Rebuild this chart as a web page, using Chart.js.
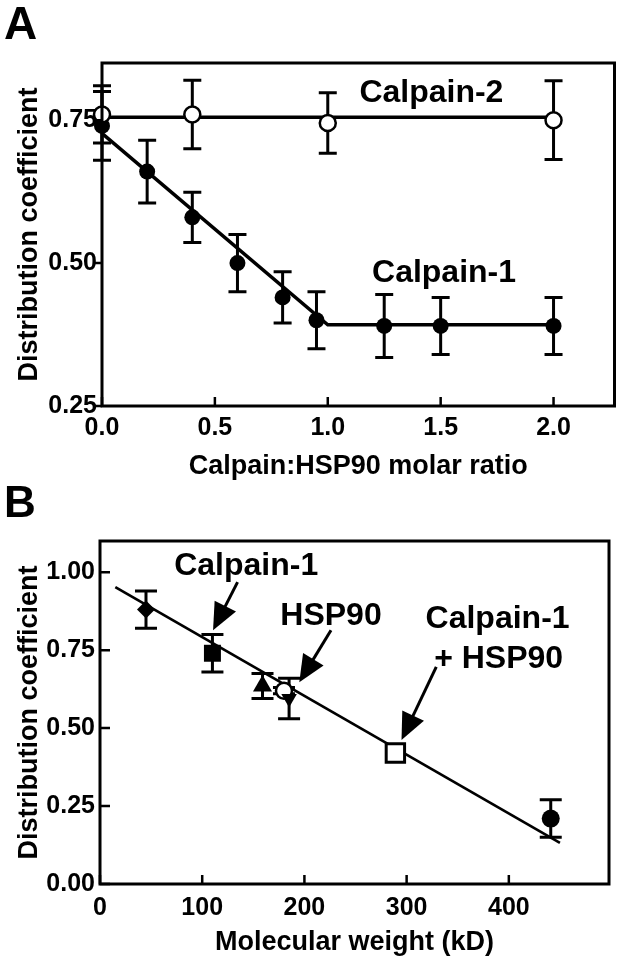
<!DOCTYPE html>
<html><head><meta charset="utf-8">
<script src="https://cdn.jsdelivr.net/npm/chart.js@4.4.0/dist/chart.umd.min.js"></script>
<style>
html,body{margin:0;padding:0;background:#fff;width:625px;height:963px;overflow:hidden}
#wrap{position:relative;width:625px;height:963px;background:#fff}
canvas{position:absolute;left:0}
#cA{top:0}
#cB{top:480px}
.lbl{position:absolute;font-family:"Liberation Sans",Arial,sans-serif;font-weight:bold;line-height:1;color:#000}
</style></head>
<body><div id="wrap">
<canvas id="cA" width="625" height="480"></canvas>
<canvas id="cB" width="625" height="483"></canvas>
<div class="lbl" style="left:4px;top:0px;font-size:46px">A</div>
<div class="lbl" style="left:4px;top:480px;font-size:44px">B</div>
</div>
<script>
// ---------- Panel A data ----------
const ratioC1 = [0, 0.2, 0.4, 0.6, 0.8, 0.95, 1.25, 1.5, 2.0];
const coefC1  = [0.74, 0.66, 0.58, 0.50, 0.44, 0.40, 0.39, 0.39, 0.39];
const errC1   = [0.06, 0.055, 0.044, 0.05, 0.045, 0.05, 0.055, 0.05, 0.05];
const ratioC2 = [0, 0.4, 1.0, 2.0];
const coefC2  = [0.76, 0.76, 0.745, 0.75];
const errC2   = [0.05, 0.06, 0.053, 0.069];
const fitC1X = [0, 1.0, 2.0];
const fitC1Y = [0.727, 0.392, 0.392];
const fitC2X = [0, 2.0];
const fitC2Y = [0.755, 0.755];
const xTicksA = [0, 0.5, 1.0, 1.5, 2.0];
const xTickLabelsA = ['0.0', '0.5', '1.0', '1.5', '2.0'];
const yTicksA = [0.25, 0.5, 0.75];
const yTickLabelsA = ['0.25', '0.50', '0.75'];
const annA  = ['Calpain-2', 'Calpain-1'];
const annAX = [1.459, 1.515];
const annAY = [0.781, 0.467];

// ---------- Panel B data ----------
const mwB   = [45, 110, 159, 180, 185, 289, 441];
const coefB = [0.88, 0.74, 0.635, 0.62, 0.595, 0.42, 0.21];
const errB  = [0.06, 0.06, 0.04, 0.01, 0.065, 0, 0.06];
const fitBX = [15, 450];
const fitBY = [0.952, 0.132];
const xTicksB = [0, 100, 200, 300, 400];
const xTickLabelsB = ['0', '100', '200', '300', '400'];
const yTicksB = [0, 0.25, 0.5, 0.75, 1.0];
const yTickLabelsB = ['0.00', '0.25', '0.50', '0.75', '1.00'];
const annB  = ['Calpain-1', 'HSP90', 'Calpain-1', '+ HSP90'];
const annBX = [143, 226, 389, 390];
const annBY = [0.99, 0.83, 0.82, 0.692];
const arrowFromX = [134.6, 226, 329];
const arrowFromY = [0.968, 0.814, 0.696];
const arrowToX   = [110.6, 195, 295];
const arrowToY   = [0.814, 0.647, 0.462];

const FONT = '"Liberation Sans", Arial, sans-serif';
const pts = (xs, ys) => xs.map((x, i) => ({x: x, y: ys[i]}));

function drawErr(ctx, xs, ys, xv, yv, ev, half, lw) {
  ctx.save();
  ctx.strokeStyle = '#000'; ctx.lineWidth = lw; ctx.lineCap = 'butt';
  xv.forEach((x, i) => {
    if (!ev[i]) return;
    const px = xs.getPixelForValue(x);
    const pt = ys.getPixelForValue(yv[i] + ev[i]);
    const pb = ys.getPixelForValue(yv[i] - ev[i]);
    ctx.beginPath();
    ctx.moveTo(px, pt); ctx.lineTo(px, pb);
    ctx.moveTo(px - half, pt); ctx.lineTo(px + half, pt);
    ctx.moveTo(px - half, pb); ctx.lineTo(px + half, pb);
    ctx.stroke();
  });
  ctx.restore();
}

function drawFrame(chart, yOut, yLen, xLen) {
  const ctx = chart.ctx, a = chart.chartArea, xs = chart.scales.x, ys = chart.scales.y;
  ctx.save();
  ctx.strokeStyle = '#000'; ctx.lineWidth = 3;
  ctx.strokeRect(a.left, a.top, a.right - a.left, a.bottom - a.top);
  ctx.lineWidth = 2.5;
  ctx.beginPath();
  xs.ticks.forEach(t => {
    const px = xs.getPixelForValue(t.value);
    ctx.moveTo(px, a.bottom); ctx.lineTo(px, a.bottom - xLen);
  });
  ys.ticks.forEach(t => {
    const py = ys.getPixelForValue(t.value);
    ctx.moveTo(a.left, py); ctx.lineTo(a.left + (yOut ? -yLen : yLen), py);
  });
  ctx.stroke();
  ctx.restore();
}

function drawTexts(chart, txt, xv, yv, size) {
  const ctx = chart.ctx, xs = chart.scales.x, ys = chart.scales.y;
  ctx.save();
  ctx.fillStyle = '#000';
  ctx.font = 'bold ' + size + 'px ' + FONT;
  ctx.textAlign = 'center'; ctx.textBaseline = 'alphabetic';
  txt.forEach((t, i) => ctx.fillText(t, xs.getPixelForValue(xv[i]), ys.getPixelForValue(yv[i])));
  ctx.restore();
}

function drawArrows(chart) {
  const ctx = chart.ctx, xs = chart.scales.x, ys = chart.scales.y;
  ctx.save();
  ctx.fillStyle = '#000'; ctx.strokeStyle = '#000'; ctx.lineWidth = 3;
  arrowFromX.forEach((fx, i) => {
    const x0 = xs.getPixelForValue(fx), y0 = ys.getPixelForValue(arrowFromY[i]);
    const x1 = xs.getPixelForValue(arrowToX[i]), y1 = ys.getPixelForValue(arrowToY[i]);
    const dx = x1 - x0, dy = y1 - y0, L = Math.hypot(dx, dy);
    const ux = dx / L, uy = dy / L;
    const hl = 27, hw = 12;
    const bx = x1 - ux * hl, by = y1 - uy * hl;
    ctx.beginPath(); ctx.moveTo(x0, y0); ctx.lineTo(bx + ux * 2, by + uy * 2); ctx.stroke();
    ctx.beginPath();
    ctx.moveTo(x1, y1);
    ctx.lineTo(bx - uy * hw, by + ux * hw);
    ctx.lineTo(bx + uy * hw, by - ux * hw);
    ctx.closePath(); ctx.fill();
  });
  ctx.restore();
}

function axisX(min, max, ticks, labels, title, h, tpad, titlePad) {
  return {
    type: 'linear', min: min, max: max,
    afterBuildTicks: s => { s.ticks = ticks.map(v => ({value: v})); },
    afterFit: s => { s.height = h; },
    grid: {display: false, drawTicks: false},
    border: {display: false},
    ticks: {color: '#000', padding: tpad, maxRotation: 0, autoSkip: false,
      font: {family: FONT, weight: 'bold', size: 25},
      callback: (v, i) => labels[i]},
    title: {display: true, text: title, color: '#000',
      font: {family: FONT, weight: 'bold', size: 27, lineHeight: 1},
      padding: {top: 0, bottom: titlePad}}
  };
}
function axisY(min, max, ticks, labels, w) {
  return {
    type: 'linear', min: min, max: max,
    afterBuildTicks: s => { s.ticks = ticks.map(v => ({value: v})); },
    afterFit: s => { s.width = w; },
    grid: {display: false, drawTicks: false},
    border: {display: false},
    ticks: {color: '#000', padding: 5, autoSkip: false,
      font: {family: FONT, weight: 'bold', size: 25},
      callback: (v, i) => labels[i]},
    title: {display: true, text: 'Distribution coefficient', color: '#000',
      font: {family: FONT, weight: 'bold', size: 27, lineHeight: 1},
      padding: {top: 16.5, bottom: 0}}
  };
}

const plugA = {
  id: 'plugA',
  beforeDatasetsDraw(chart) {
    drawErr(chart.ctx, chart.scales.x, chart.scales.y, ratioC2, coefC2, errC2, 9, 3);
    drawErr(chart.ctx, chart.scales.x, chart.scales.y, ratioC1, coefC1, errC1, 9, 3);
  },
  afterDatasetsDraw(chart) {
    drawFrame(chart, true, 8, 9);
    drawTexts(chart, annA, annAX, annAY, 32);
  }
};
const plugB = {
  id: 'plugB',
  beforeDatasetsDraw(chart) {
    drawErr(chart.ctx, chart.scales.x, chart.scales.y, mwB, coefB, errB, 11, 3);
  },
  afterDatasetsDraw(chart) {
    drawFrame(chart, false, 10, 9);
    drawArrows(chart);
    drawTexts(chart, annB, annBX, annBY, 32);
  }
};

const common = {
  responsive: false, animation: false, devicePixelRatio: 1,
  plugins: {legend: {display: false}, tooltip: {enabled: false}}
};

new Chart(document.getElementById('cA'), {
  type: 'scatter',
  data: {datasets: [
    {data: pts(ratioC2, coefC2), pointStyle: 'circle', pointRadius: 8,
     pointBackgroundColor: '#fff', pointBorderColor: '#000', pointBorderWidth: 2.5, clip: false},
    {data: pts(ratioC1, coefC1), pointStyle: 'circle', pointRadius: 8,
     pointBackgroundColor: '#000', pointBorderColor: '#000', pointBorderWidth: 0, clip: false},
    {data: pts(fitC2X, fitC2Y), showLine: true, pointRadius: 0, borderColor: '#000', borderWidth: 3.5, clip: false},
    {data: pts(fitC1X, fitC1Y), showLine: true, pointRadius: 0, borderColor: '#000', borderWidth: 3.5, clip: false}
  ]},
  options: Object.assign({}, common, {
    layout: {padding: {left: 0, top: 63, right: 3, bottom: 0}},
    scales: {
      x: axisX(0, 2.27, xTicksA, xTickLabelsA, 'Calpain:HSP90 molar ratio', 74, 7, 0),
      y: axisY(0.25, 0.85, yTicksA, yTickLabelsA, 102)
    }
  }),
  plugins: [plugA]
});

new Chart(document.getElementById('cB'), {
  type: 'scatter',
  data: {datasets: [
    {data: pts(mwB, coefB),
     pointStyle: ['rectRot', 'rect', 'triangle', 'circle', 'triangle', 'rect', 'circle'],
     pointRotation: [0, 0, 0, 0, 180, 0, 0],
     pointRadius: [9, 12, 11, 8, 9, 13, 9],
     pointBackgroundColor: ['#000', '#000', '#000', '#fff', '#000', '#fff', '#000'],
     pointBorderColor: '#000',
     pointBorderWidth: [0, 0, 0, 2.5, 0, 3, 0], clip: false},
    {data: pts(fitBX, fitBY), showLine: true, pointRadius: 0, borderColor: '#000', borderWidth: 2.7, clip: false}
  ]},
  options: Object.assign({}, common, {
    layout: {padding: {left: 0, top: 61, right: 7, bottom: 0}},
    scales: {
      x: axisX(0, 498, xTicksB, xTickLabelsB, 'Molecular weight (kD)', 79, 9, 6.5),
      y: axisY(0, 1.1, yTicksB, yTickLabelsB, 100)
    }
  }),
  plugins: [plugB]
});
</script>
</body></html>
